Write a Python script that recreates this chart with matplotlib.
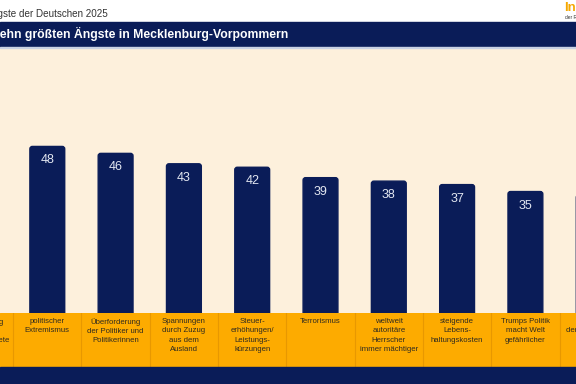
import numpy as np
import matplotlib.pyplot as plt
from matplotlib.patches import Rectangle, FancyBboxPatch

plt.rcParams['font.family'] = ['Liberation Sans', 'DejaVu Sans']

# daten (ausschnitt: erste und letzte kategorie liegen am rand)
kategorien = ['Überforderung\ndes Staates\ndurch Geflüchtete',
              'politischer\nExtremismus',
              'Überforderung\nder Politiker und\nPolitikerinnen',
              'Spannungen\ndurch Zuzug\naus dem\nAusland',
              'Steuer-\nerhöhungen/\nLeistungs-\nkürzungen',
              'Terrorismus',
              'weltweit\nautoritäre\nHerrscher\nimmer mächtiger',
              'steigende\nLebens-\nhaltungskosten',
              'Trumps Politik\nmacht Welt\ngefährlicher',
              'Spaltung\nder Gesellschaft']
werte = [50, 48, 46, 43, 42, 39, 38, 37, 35, 34]

titel = 'Die Ängste der Deutschen 2025'
untertitel = 'Die zehn größten Ängste in Mecklenburg-Vorpommern'

navy = '#0a1c58'
creme = '#fdf0dc'
orange = '#fdab00'

W, H = 576, 384
fig = plt.figure(figsize=(W/100, H/100), dpi=100)
fig.patch.set_facecolor('white')

def fy(px):
    return 1 - px/H

# hintergrund-baender
fig.patches.append(Rectangle((0, fy(47)), 1, fy(22.5)-fy(47), transform=fig.transFigure, color=navy, zorder=0))
fig.patches.append(Rectangle((0, fy(48)), 1, fy(47)-fy(48), transform=fig.transFigure, color='#c9d1e3', zorder=0))
fig.patches.append(Rectangle((0, 0), 1, fy(367), transform=fig.transFigure, color=navy, zorder=0))

fig.text(108/W, fy(14), titel, ha='right', va='center', fontsize=7.1, color='#333333')
fig.text(288/W, fy(34), untertitel, ha='right', va='center', fontsize=8.85, fontweight='bold', color='white')
fig.text(564/W, fy(8), 'Infocenter', ha='left', va='center', fontsize=9.5, fontweight='bold', color='#f5a800')
fig.text(565/W, fy(18), 'der R+V Versicherung', ha='left', va='center', fontsize=3.5, color='#333333')

# x-skala: kategorie i liegt bei -21 + 68.3*i px
sp = 68.3
xl = (21/sp, (W+21)/sp)
x = np.arange(len(werte))

ax = fig.add_axes([0, fy(313), 1, fy(48)-fy(313)])
ax.set_xlim(*xl)
ax.set_ylim(0, 265/3.47)
ax.axis('off')
ax.add_patch(Rectangle((0, 0), 1, 1, transform=ax.transAxes, color=creme, zorder=0))

bars = ax.bar(x, werte, width=0.51, color=navy)
# abgerundete ecken
px_x = (xl[1]-xl[0])/W
px_y = (265/3.47)/265
for b in bars:
    b.set_visible(False)
    fb = FancyBboxPatch((b.get_x(), b.get_y()-3*px_y), b.get_width(), b.get_height()+3*px_y,
                        boxstyle='round,pad=0,rounding_size=%f' % (2.5*px_x),
                        mutation_aspect=px_y/px_x, color=navy, zorder=2)
    ax.add_patch(fb)
for xi, v in zip(x, werte):
    ax.annotate(str(v), (xi, v), xytext=(0, -14), textcoords='offset pixels',
                ha='center', va='center', fontsize=9, color='#e3e7f1', zorder=3)

# orange beschriftungsband
ax2 = fig.add_axes([0, fy(367), 1, fy(313)-fy(367)])
ax2.set_xlim(*xl)
ax2.set_ylim(0, 1)
ax2.axis('off')
ax2.add_patch(Rectangle((0, 0), 1, 1, transform=ax2.transAxes, color=orange, zorder=0))
for xi in x[:-1]:
    ax2.axvline(xi+0.5, color='#e89800', lw=0.8, zorder=1)
for xi, k in zip(x, kategorien):
    ax2.text(xi, 1-5/54, k, ha='center', va='top', fontsize=5.6, color='#2e2a20', linespacing=1.45, zorder=2)

fig.savefig('out.png', dpi=100)
